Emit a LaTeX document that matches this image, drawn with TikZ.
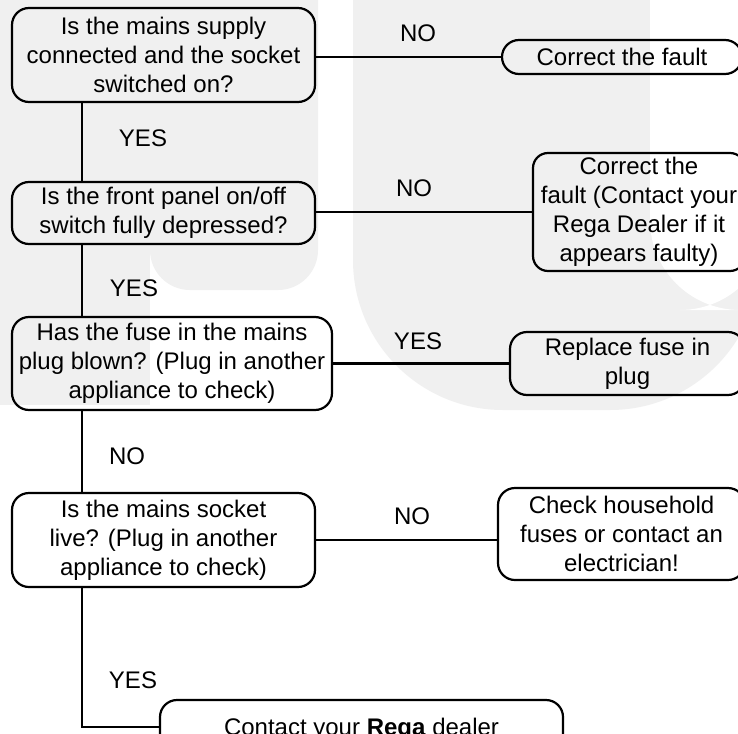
\documentclass[tikz,border=0pt]{standalone}
\usepackage{fontspec}
\setmainfont{Liberation Sans}
\begin{document}
\begin{tikzpicture}[x=1pt,y=-1pt,
  font=\fontsize{24}{29}\selectfont,
  box/.style={draw=black, line width=2.2pt, rounded corners=17pt, inner sep=0pt, align=center},
  conn/.style={draw=black, line width=2.2pt},
  lbl/.style={inner sep=0pt}]
\definecolor{bggray}{HTML}{F0F0F0}
\useasboundingbox (0,0) rectangle (738,733);
\clip (0,0) rectangle (738,733);
% background watermark
\fill[white] (0,0) rectangle (738,733);
\fill[bggray] (0,0) rectangle (150,405);
\fill[bggray] (150,0) [rounded corners=40pt] -- (150,290) -- (318,290) [sharp corners] -- (318,0) -- cycle;
\fill[bggray] (353,0) [rounded corners=150pt] -- (353,410) -- (760,410) [sharp corners] -- (760,0) -- cycle;
\fill[white] (650,-10) [rounded corners=90pt] -- (650,310) -- (770,310) [sharp corners] -- (770,-10) -- cycle;
% left question boxes
\node[box, minimum width=303pt, minimum height=94pt] (b1) at (163.5,55) {Is the mains supply\\connected and the socket\\switched on?};
\node[box, minimum width=303pt, minimum height=62pt] (b2) at (163.5,213) {Is the front panel on/off\\switch fully depressed?};
\node[box, minimum width=320pt, minimum height=93pt] (b3) at (172,363.5) {Has the fuse in the mains\\plug blown? (Plug in another\\appliance to check)};
\node[box, minimum width=303pt, minimum height=94pt] (b4) at (163.5,540) {Is the mains socket\\live? (Plug in another\\appliance to check)};
% right action boxes
\node[box, minimum width=240pt, minimum height=34pt] (r1) at (622,57) {Correct the fault};
\node[box, minimum width=212pt, minimum height=118pt, rounded corners=15pt] (r2) at (639,212) {Correct the\\fault (Contact your\\Rega Dealer if it\\appears faulty)};
\node[box, minimum width=235pt, minimum height=63pt] (r3) at (627.5,363.5) {Replace fuse in\\plug};
\node[box, minimum width=247pt, minimum height=92pt] (r4) at (621.5,534) {Check household\\fuses or contact an\\electrician!};
\node[box, minimum width=403pt, minimum height=54pt, text depth=0pt] (r5) at (361.5,727) {Contact your \textbf{Rega} dealer};
% spine
\coordinate (v) at (82,0);
\draw[conn] (b1.south -| v) -- (b2.north -| v);
\draw[conn] (b2.south -| v) -- (b3.north -| v);
\draw[conn] (b3.south -| v) -- (b4.north -| v);
\draw[conn] (b4.south -| v) |- (r5.west);
% branches
\draw[conn] (r1.west -| b1.east) -- (r1.west);
\draw[conn] (r2.west -| b2.east) -- (r2.west);
\draw[conn] (b3.east) -- (b3.east -| r3.west);
\draw[conn] (b4.east) -- (b4.east -| r4.west);
% labels
\node[lbl] (l1) at (418,33) {NO};
\node[lbl] (l2) at (414,188) {NO};
\node[lbl] (l3) at (418,341) {YES};
\node[lbl] (l4) at (412,516) {NO};
\node[lbl] (l5) at (143,138) {YES};
\node[lbl] (l6) at (134,288) {YES};
\node[lbl] (l7) at (127,456) {NO};
\node[lbl] (l8) at (133,680) {YES};
\end{tikzpicture}
\end{document}
